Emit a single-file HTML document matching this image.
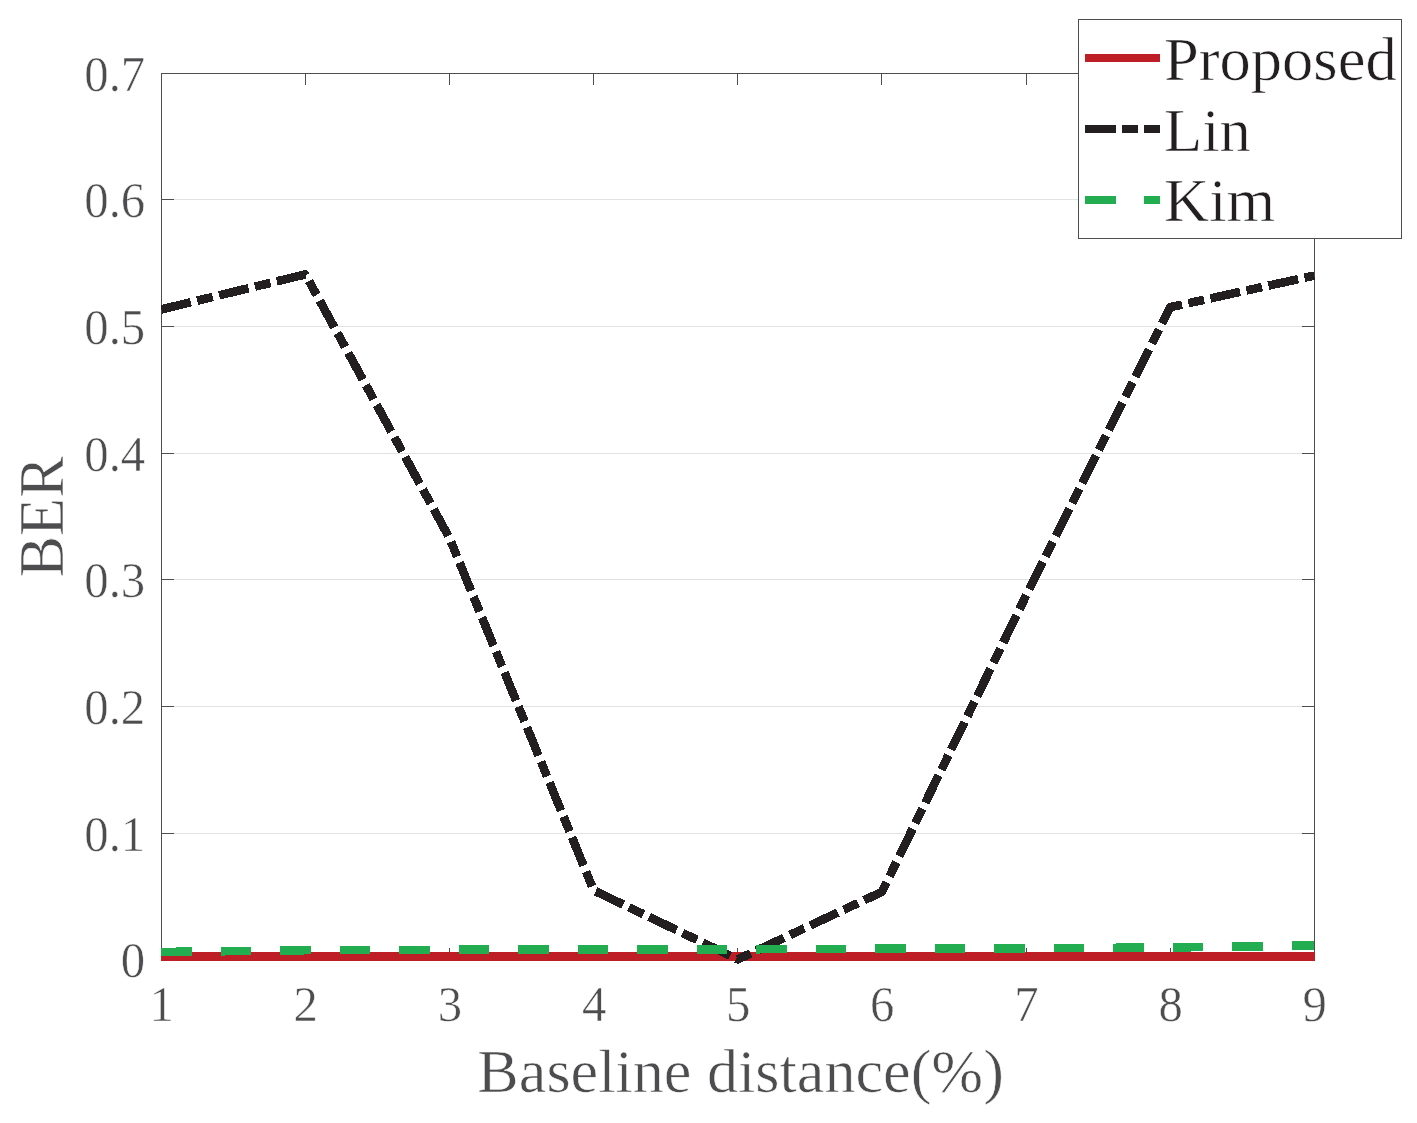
<!DOCTYPE html>
<html lang="en"><head><meta charset="utf-8"><title>BER vs Baseline distance</title>
<style>html,body{margin:0;padding:0;background:#fff;overflow:hidden}svg{display:block}text{font-family:"Liberation Serif",serif}</style></head><body>
<svg width="1417" height="1123" viewBox="0 0 1417 1123">
<rect width="1417" height="1123" fill="#fff"/>
<defs><clipPath id="ax"><rect x="161" y="60" width="1154" height="920"/></clipPath></defs>
<g shape-rendering="crispEdges" stroke="#e1e2e3" stroke-width="1">
<line x1="162" x2="1314" y1="833.5" y2="833.5"/>
<line x1="162" x2="1314" y1="706.5" y2="706.5"/>
<line x1="162" x2="1314" y1="579.5" y2="579.5"/>
<line x1="162" x2="1314" y1="453.5" y2="453.5"/>
<line x1="162" x2="1314" y1="326.5" y2="326.5"/>
<line x1="162" x2="1314" y1="199.5" y2="199.5"/>
</g>
<g shape-rendering="crispEdges" stroke="#4d4d4f" stroke-width="1" fill="none">
<rect x="161.5" y="73.5" width="1153" height="886"/>
<line x1="162" x2="174" y1="833.5" y2="833.5"/><line x1="1302" x2="1314" y1="833.5" y2="833.5"/>
<line x1="162" x2="174" y1="706.5" y2="706.5"/><line x1="1302" x2="1314" y1="706.5" y2="706.5"/>
<line x1="162" x2="174" y1="579.5" y2="579.5"/><line x1="1302" x2="1314" y1="579.5" y2="579.5"/>
<line x1="162" x2="174" y1="453.5" y2="453.5"/><line x1="1302" x2="1314" y1="453.5" y2="453.5"/>
<line x1="162" x2="174" y1="326.5" y2="326.5"/><line x1="1302" x2="1314" y1="326.5" y2="326.5"/>
<line x1="162" x2="174" y1="199.5" y2="199.5"/><line x1="1302" x2="1314" y1="199.5" y2="199.5"/>
<line x1="305.5" x2="305.5" y1="73" y2="85"/><line x1="305.5" x2="305.5" y1="948" y2="960"/>
<line x1="449.5" x2="449.5" y1="73" y2="85"/><line x1="449.5" x2="449.5" y1="948" y2="960"/>
<line x1="593.5" x2="593.5" y1="73" y2="85"/><line x1="593.5" x2="593.5" y1="948" y2="960"/>
<line x1="737.5" x2="737.5" y1="73" y2="85"/><line x1="737.5" x2="737.5" y1="948" y2="960"/>
<line x1="881.5" x2="881.5" y1="73" y2="85"/><line x1="881.5" x2="881.5" y1="948" y2="960"/>
<line x1="1026.5" x2="1026.5" y1="73" y2="85"/><line x1="1026.5" x2="1026.5" y1="948" y2="960"/>
<line x1="1170.5" x2="1170.5" y1="73" y2="85"/><line x1="1170.5" x2="1170.5" y1="948" y2="960"/>
</g>
<g clip-path="url(#ax)" shape-rendering="crispEdges" fill="none">
<line x1="161" x2="1315" y1="956.5" y2="956.5" stroke="#be1e25" stroke-width="9"/>
<polyline points="161.3,309.4 305.4,274.4 449.6,538.3 593.7,890.4 737.8,959.4 881.9,891.9 1026.0,595.8 1170.2,307.2 1314.3,275.6" stroke="#231f20" stroke-width="8.6" stroke-dasharray="30.45 6.5 15.95 6.5" stroke-linejoin="round"/>
<polyline points="161.3,952.0 305.4,950.2 449.6,949.8 593.7,949.4 737.8,949.3 881.9,948.7 1026.0,948.3 1170.2,947.5 1314.3,945.5" stroke="#22ad50" stroke-width="8.6" stroke-dasharray="30.3 29.2"/>
</g>
<g fill="#4d4d4f" font-size="50" stroke="#fff" stroke-width="0.5">
<text transform="translate(145.2,977) scale(0.975,1)" text-anchor="end">0</text>
<text transform="translate(145.2,851) scale(0.975,1)" text-anchor="end">0.1</text>
<text transform="translate(145.2,724) scale(0.975,1)" text-anchor="end">0.2</text>
<text transform="translate(145.2,597) scale(0.975,1)" text-anchor="end">0.3</text>
<text transform="translate(145.2,471) scale(0.975,1)" text-anchor="end">0.4</text>
<text transform="translate(145.2,344) scale(0.975,1)" text-anchor="end">0.5</text>
<text transform="translate(145.2,217) scale(0.975,1)" text-anchor="end">0.6</text>
<text transform="translate(145.2,91) scale(0.975,1)" text-anchor="end">0.7</text>
<text transform="translate(161.7,1021) scale(0.975,1)" text-anchor="middle">1</text>
<text transform="translate(305.8,1021) scale(0.975,1)" text-anchor="middle">2</text>
<text transform="translate(449.9,1021) scale(0.975,1)" text-anchor="middle">3</text>
<text transform="translate(594.1,1021) scale(0.975,1)" text-anchor="middle">4</text>
<text transform="translate(738.2,1021) scale(0.975,1)" text-anchor="middle">5</text>
<text transform="translate(882.3,1021) scale(0.975,1)" text-anchor="middle">6</text>
<text transform="translate(1026.5,1021) scale(0.975,1)" text-anchor="middle">7</text>
<text transform="translate(1170.6,1021) scale(0.975,1)" text-anchor="middle">8</text>
<text transform="translate(1314.7,1021) scale(0.975,1)" text-anchor="middle">9</text>
</g>
<g fill="#4d4d4f" font-size="62.5" stroke="#fff" stroke-width="0.6">
<text transform="translate(740.6,1092) scale(0.995,0.992)" text-anchor="middle">Baseline distance(%)</text>
<text transform="translate(63.3,516.8) rotate(-90) scale(1,1)" text-anchor="middle">BER</text>
</g>
<rect x="1078.5" y="19.5" width="323" height="219" fill="#fff" stroke="#4d4d4f" stroke-width="1" shape-rendering="crispEdges"/>
<g shape-rendering="crispEdges" fill="none" stroke-width="8">
<line x1="1085" x2="1160" y1="58" y2="58" stroke="#be1e25"/>
<line x1="1085" x2="1160" y1="129" y2="129" stroke="#231f20" stroke-dasharray="31 6 16 6"/>
<line x1="1085" x2="1160" y1="200" y2="200" stroke="#22ad50" stroke-dasharray="31 28"/>
</g>
<g fill="#231f20" font-size="62.5" stroke="#fff" stroke-width="0.6">
<text transform="translate(1164,80.4) scale(1,0.992)">Proposed</text>
<text transform="translate(1164,150.9) scale(1,0.992)">Lin</text>
<text transform="translate(1164,221) scale(1,0.992)">Kim</text>
</g>
</svg></body></html>
